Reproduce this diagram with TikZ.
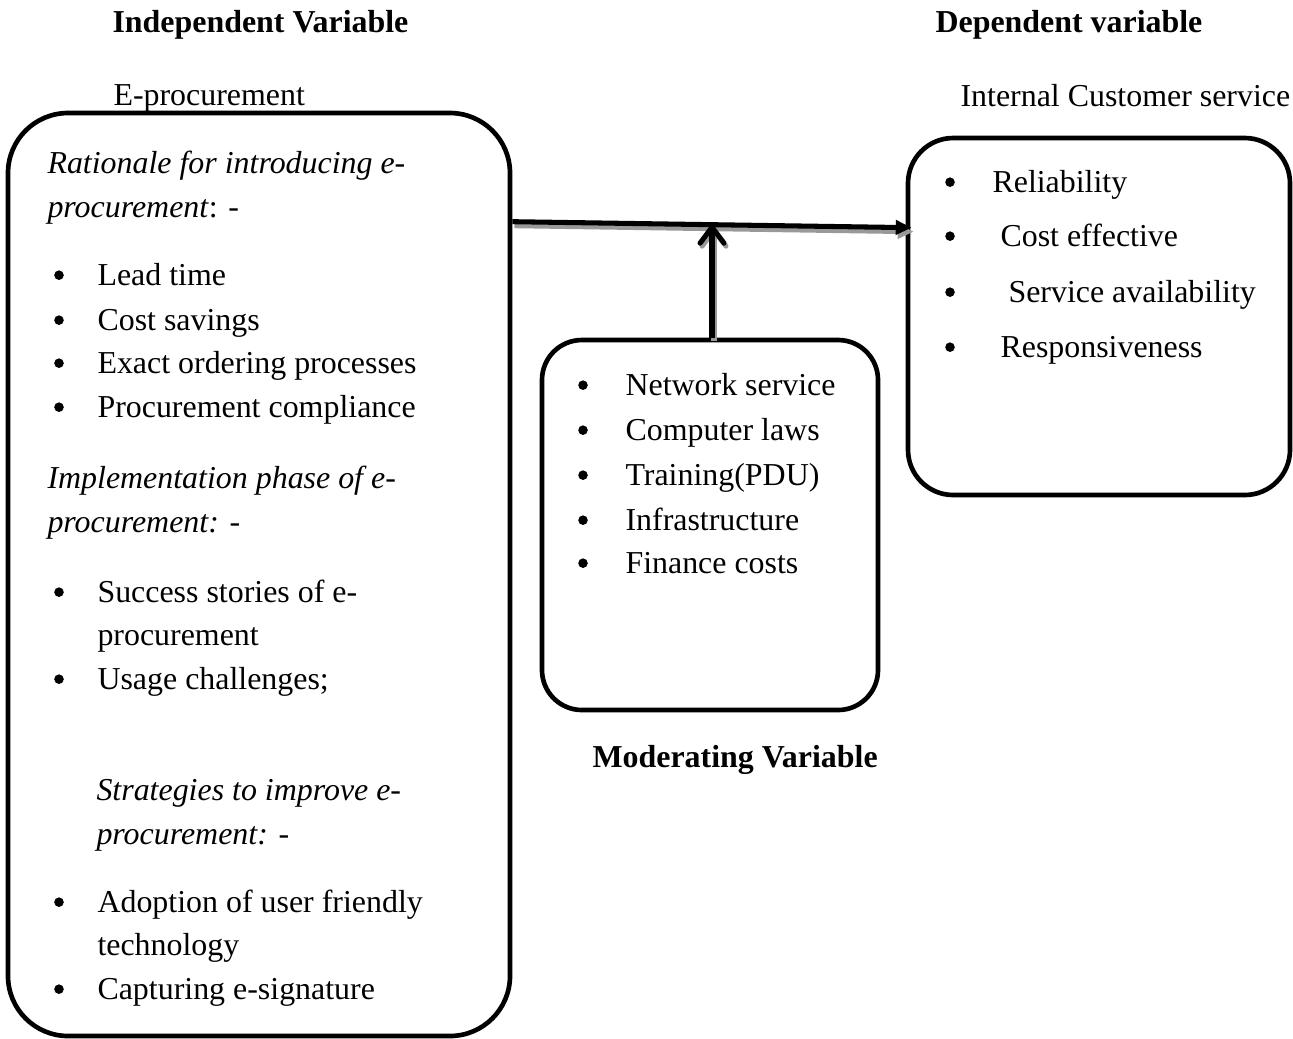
\documentclass[tikz,border=0pt]{standalone}
\usepackage{fontspec}
\setmainfont{Liberation Serif}
\usetikzlibrary{arrows.meta,calc}
\begin{document}
\begin{tikzpicture}[x=0.376pt,y=-0.376pt,
  txt/.style={inner sep=0pt,font=\fontsize{12pt}{14pt}\selectfont,anchor=base west},
  bul/.style={circle,fill=black,inner sep=0pt,minimum size=3.6pt,yshift=3.7pt},
  box/.style={draw,line width=1.75pt,rounded corners=#1,inner sep=0pt},
  link/.style={line width=1.9pt},
  shade/.style={line width=1.9pt,draw=black!40}]
\useasboundingbox (0,0) rectangle (1293,1038);

% boxes
\node[box=22.6pt,minimum width={502*0.376pt},minimum height={923*0.376pt}] (lbox) at (259,574.5) {};
\node[box=15pt,minimum width={336*0.376pt},minimum height={370*0.376pt}] (mbox) at (710,525) {};
\node[box=17pt,minimum width={382*0.376pt},minimum height={357*0.376pt}] (rbox) at (1099,316.5) {};

% headings
\node[txt,font=\fontsize{12pt}{14pt}\selectfont\bfseries] (indep) at (112,32) {Independent Variable};
\node[txt,font=\fontsize{12pt}{14pt}\selectfont\bfseries] (dep) at (935,32) {Dependent variable};
\node[txt] (eproc) at (113,105) {E-procurement};
\node[txt] (ics) at (960,106) {Internal Customer service};
\node[txt,font=\fontsize{12pt}{14pt}\selectfont\bfseries] (mod) at (592,767) {Moderating Variable};

% left box text
\node[txt] (h1a) at (47,173) {\itshape Rationale for introducing e-};
\node[txt] (h1b) at (47,217) {\textit{procurement}: -};
\node[bul] (b1) at (59,285) {}; \node[txt] (t1) at (97,285) {Lead time};
\node[bul] (b2) at (59,330) {}; \node[txt] (t2) at (97,330) {Cost savings};
\node[bul] (b3) at (59,373) {}; \node[txt] (t3) at (97,373) {Exact ordering processes};
\node[bul] (b4) at (59,417) {}; \node[txt] (t4) at (97,417) {Procurement compliance};
\node[txt] (h2a) at (47,488) {\itshape Implementation phase of e-};
\node[txt] (h2b) at (47,532) {\itshape procurement: -};
\node[bul] (b5) at (59,602) {}; \node[txt] (t5) at (97,602) {Success stories of e-};
\node[txt] (t5b) at (97,645) {procurement};
\node[bul] (b6) at (59,689) {}; \node[txt] (t6) at (97,689) {Usage challenges;};
\node[txt] (h3a) at (96,800) {\itshape Strategies to improve e-};
\node[txt] (h3b) at (96,844) {\itshape procurement: -};
\node[bul] (b7) at (59,912) {}; \node[txt] (t7) at (97,912) {Adoption of user friendly};
\node[txt] (t7b) at (97,955) {technology};
\node[bul] (b8) at (59,999) {}; \node[txt] (t8) at (97,999) {Capturing e-signature};

% middle box text
\node[bul] (m1b) at (583,395) {}; \node[txt] (m1) at (625,395) {Network service};
\node[bul] (m2b) at (583,440) {}; \node[txt] (m2) at (625,440) {Computer laws};
\node[bul] (m3b) at (583,485) {}; \node[txt] (m3) at (625,485) {Training(PDU)};
\node[bul] (m4b) at (583,530) {}; \node[txt] (m4) at (625,530) {Infrastructure};
\node[bul] (m5b) at (583,573) {}; \node[txt] (m5) at (625,573) {Finance costs};

% right box text
\node[bul] (r1b) at (950,192) {}; \node[txt] (r1) at (992,192) {Reliability};
\node[bul] (r2b) at (950,246) {}; \node[txt] (r2) at (1000,246) {Cost effective};
\node[bul] (r3b) at (950,302) {}; \node[txt] (r3) at (1008,302) {Service availability};
\node[bul] (r4b) at (950,357) {}; \node[txt] (r4) at (1000,357) {Responsiveness};

% connectors
\coordinate (hs) at ($(lbox.north east)+(0,111)$);
\coordinate (he) at ($(rbox.north west)+(6,92)$);
\coordinate (vs) at ($(mbox.north)+(2,0)$);
\coordinate (ve) at ($(mbox.north)+(2,-113)$);

\draw[shade,-{Triangle[length=6pt,width=5.3pt]}] ([shift={(2,4)}]hs) -- ([shift={(2,4)}]he);
\draw[shade,-{Straight Barb[length=6pt,width=9pt,round]}] ([shift={(2,3)}]vs) -- ([shift={(2,3)}]ve);
\draw[link,-{Triangle[length=6pt,width=5.3pt]}] (hs) -- (he);
\draw[link,-{Straight Barb[length=6pt,width=9pt,round]}] (vs) -- (ve);
\end{tikzpicture}
\end{document}
